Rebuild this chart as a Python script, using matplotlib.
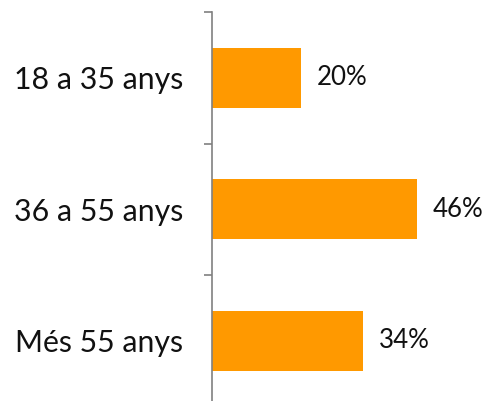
import matplotlib
matplotlib.use("Agg")
import matplotlib.pyplot as plt

categories = ["18 a 35 anys", "36 a 55 anys", "Més 55 anys"]
values = [20, 46, 34]
value_labels = ["20%", "46%", "34%"]

W, H = 490, 401
fig = plt.figure(figsize=(W / 100, H / 100), dpi=100)
ax_left, ax_top = 212, 12
band = 131.5
ax_bottom = ax_top + 3 * band
ax_w = W - ax_left
ax = fig.add_axes([ax_left / W, 1 - ax_bottom / H, ax_w / W, (ax_bottom - ax_top) / H])
px_per = 4.45
ax.set_xlim(0, ax_w / px_per)
ax.set_ylim(2.5, -0.5)

ypos = list(range(len(categories)))
ax.barh(ypos, values, height=60 / band, color="#FF9900", zorder=2)

font = "Lato"
for y, v, lab in zip(ypos, values, value_labels):
    ax.text(v + 16 / px_per, y, lab, va="center", ha="left", fontsize=18.6,
            family=font, fontweight="normal", color="#111111")

for s in ["top", "right", "bottom"]:
    ax.spines[s].set_visible(False)
ax.spines["left"].set_color("#808080")
ax.spines["left"].set_linewidth(1.2)
ax.set_xticks([])
ax.set_yticks([-0.5, 0.5, 1.5, 2.5])
ax.set_yticklabels([])
ax.tick_params(axis="y", which="major", length=6, width=1.2, color="#808080")
ax.set_yticks(ypos, minor=True)
ax.set_yticklabels(categories, minor=True, fontsize=21.8, family=font,
                   fontweight="normal", color="#111111")
ax.tick_params(axis="y", which="minor", length=0, pad=21)

fig.savefig("out.png", dpi=100)
